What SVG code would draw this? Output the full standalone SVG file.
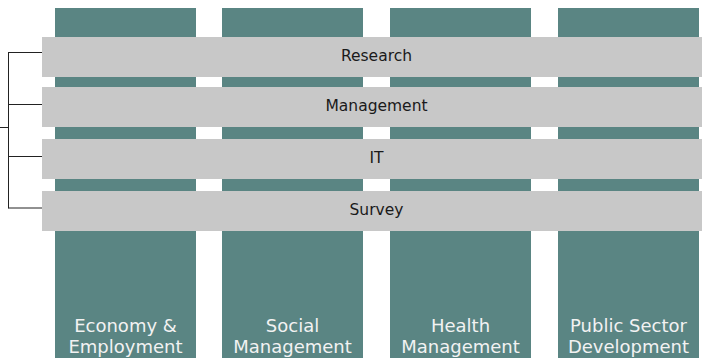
<svg xmlns="http://www.w3.org/2000/svg" width="702" height="358" viewBox="0 0 702 358">
<style>
.col{fill:#5a8583}
.bar{fill:#c8c8c8}
.bt{font-family:"DejaVu Sans",Verdana,sans-serif;font-size:15.5px;fill:#1a1a1a;text-anchor:middle}
.ct{font-family:"DejaVu Sans",Verdana,sans-serif;font-size:18px;fill:#f2f2f2;text-anchor:middle}
.ln{stroke:#222;stroke-width:1;fill:none}
</style>
<rect width="702" height="358" fill="#ffffff"/>
<g id="col-economy"><rect class="col" x="55" y="8" width="141" height="350"/><text class="ct" x="125.5" y="331.5">Economy &amp;</text><text class="ct" x="125.5" y="352.5">Employment</text></g>
<g id="col-social"><rect class="col" x="222" y="8" width="141" height="350"/><text class="ct" x="292.5" y="331.5">Social</text><text class="ct" x="292.5" y="352.5">Management</text></g>
<g id="col-health"><rect class="col" x="390" y="8" width="141" height="350"/><text class="ct" x="460.5" y="331.5">Health</text><text class="ct" x="460.5" y="352.5">Management</text></g>
<g id="col-public"><rect class="col" x="558" y="8" width="141" height="350"/><text class="ct" x="628.5" y="331.5">Public Sector</text><text class="ct" x="628.5" y="352.5">Development</text></g>
<g id="bar-research"><rect class="bar" x="42" y="37" width="660" height="40"/><text class="bt" x="376.5" y="60.5">Research</text></g>
<g id="bar-management"><rect class="bar" x="42" y="87" width="660" height="40"/><text class="bt" x="376.5" y="111">Management</text></g>
<g id="bar-it"><rect class="bar" x="42" y="139" width="660" height="40"/><text class="bt" x="376.5" y="163">IT</text></g>
<g id="bar-survey"><rect class="bar" x="42" y="191" width="660" height="40"/><text class="bt" x="376.5" y="215">Survey</text></g>
<g id="connectors">
<path class="ln" d="M0 127.5H8.5M8.5 52V208.5M8.5 52.5H42M8.5 104.5H42M8.5 156.5H42M8.5 208H42"/>
</g>
</svg>
